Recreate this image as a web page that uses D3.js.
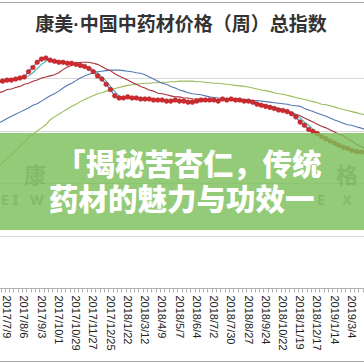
<!DOCTYPE html>
<html><head><meta charset="utf-8">
<script src="https://cdn.jsdelivr.net/npm/d3@7"></script>
<style>html,body{margin:0;padding:0;background:#fff;overflow:hidden}</style>
</head><body>
<svg id="c" width="364" height="364"></svg>
<script>
const titleLeft = "康美";
const titleDot = "·";
const titleRight = "中国中药材价格（周）总指数";
const tickLabels = ["2017/7/9","2017/8/6","2017/9/3","2017/10/1","2017/10/29","2017/11/27","2017/12/25","2018/1/22","2018/3/12","2018/4/9","2018/5/7","2018/6/4","2018/7/2","2018/7/30","2018/8/27","2018/9/24","2018/10/22","2018/11/19","2018/12/17","2019/1/14","2019/3/4"];
const firstLabelIndex = 2;
const labelEvery = 4;
// weekly total index (markers)
const indexWeekly = [1497,1497,1498,1498,1499,1500,1501,1506,1510,1515,1518,1519,1517,1516,1515,1515,1514,1514,1513,1512,1511,1509,1506,1502,1499,1494,1489,1483,1481,1481,1482,1481,1481,1480,1480,1480,1479,1479,1479,1478,1478,1479,1478,1478,1477,1477,1478,1479,1479,1479,1479,1478,1480,1479,1480,1479,1479,1478,1478,1477,1475,1474,1473,1472,1471,1469.5,1469,1468,1466,1463,1458,1455,1451,1449,1447,1444,1442,1440,1438,1436,1434,1433,1431,1430,1429.5,1429.5];
const avgShort = [1497,1497,1497,1498,1498,1499,1500,1502,1505,1509,1513,1516,1518,1517,1516,1515,1515,1514,1513,1513,1512,1510,1508,1505,1501,1497,1492,1487,1483,1481,1481,1481,1481,1481,1480,1480,1480,1479,1479,1479,1478,1478,1478,1478,1478,1477,1477,1478,1478,1479,1479,1479,1479,1479,1479,1479,1479,1479,1478,1478,1477,1475,1474,1473,1472,1471,1470,1469,1467,1465,1462,1458,1455,1451,1448,1446,1443,1441,1439,1437,1435,1434,1432,1431,1430,1430];
const avgMid = [1486,1487,1489,1489.5,1491,1492,1494,1495,1497,1498,1500,1501,1502,1503,1505,1508,1510.5,1512,1514,1515,1515,1515,1514,1513,1511,1508.5,1507,1504,1502,1500,1498,1496,1494,1492,1490.5,1488.5,1487.5,1485.5,1485,1484,1483,1482,1482,1481,1481,1480,1480,1480,1479,1479,1479,1479,1479,1479,1479,1479,1478,1478,1478,1477,1476,1475,1474,1473,1472,1471,1469.5,1468.5,1466.5,1465.5,1464,1462,1460,1458,1456,1454,1452.5,1450.5,1448.5,1446.5,1445,1442,1440,1437,1435,1433];
const avgLong = [1457,1459,1461.5,1463.5,1465.5,1467.5,1469.5,1471.5,1474,1475.5,1478,1480.5,1483,1485,1487.5,1490.5,1493,1495,1497.5,1500,1502,1503.5,1505,1506,1506.5,1507,1507.5,1507.5,1507.5,1507,1506.5,1506,1505,1504.5,1503,1501,1499,1497,1495,1494,1492,1490.5,1488.5,1487.5,1486,1485,1484.5,1484,1483,1482,1481.5,1481,1480.5,1480,1480,1480,1480,1479.5,1479,1478.5,1478.5,1478,1477.5,1477,1476.5,1476,1475.5,1475,1474,1473.5,1473,1471,1469.5,1468,1466.5,1465,1463.5,1462,1460,1458.5,1457,1455.5,1455,1453.5,1452.5,1451];
const avgYear = [1415.5,1419.5,1423.5,1427,1431,1435,1438.5,1443,1446.5,1449.5,1452.5,1455.5,1460,1463,1465.5,1468,1470.5,1473,1475,1477.5,1479.5,1481.5,1483,1485,1486,1487.5,1488.5,1490,1491,1492,1493,1493.5,1494,1494.5,1495,1495,1495.5,1495.5,1496,1496,1496.5,1496.5,1497,1497,1497,1497,1496.5,1496.5,1496,1495.5,1495,1495,1494.5,1494,1493.5,1493,1492.5,1492,1491.5,1490.5,1489.5,1488.5,1488,1487,1486,1485,1484.5,1483.5,1482.5,1481.5,1480.5,1479.5,1478.5,1477.5,1476.5,1475,1474.5,1473.5,1472.5,1471,1470,1469,1468,1467,1466,1465];
const gridValues = [1350,1400,1450,1500];
const bannerLines = ["「揭秘苦杏仁，传统","药材的魅力与功效一"];
const ghostLeftCn = "康";
const ghostRightCn = "格";
const ghostLeftEn = "EI W";
const ghostRightEn = "E X";

const svg = d3.select("#c");
const n = indexWeekly.length;
const x = d3.scaleLinear().domain([0, n - 1]).range([-1.6, 364.75]);
const y = d3.scaleLinear().domain([1300, 1550]).range([288, 25.5]);

// gridlines
svg.append("g").selectAll("line").data(gridValues).join("line")
  .attr("x1", 0).attr("x2", 364)
  .attr("y1", d => Math.round(y(d)) + 0.5).attr("y2", d => Math.round(y(d)) + 0.5)
  .attr("stroke", "#d9d9d9").attr("stroke-width", 1);

// x axis
const axisY = Math.round(y(1300)) + 0.5;
svg.append("line").attr("x1", 0).attr("x2", 364).attr("y1", axisY).attr("y2", axisY)
  .attr("stroke", "#b0b0b0");
svg.append("g").selectAll("line").data(d3.range(n + 1)).join("line")
  .attr("x1", d => Math.round(x(d - 0.5)) + 0.5).attr("x2", d => Math.round(x(d - 0.5)) + 0.5)
  .attr("y1", axisY).attr("y2", axisY + 4)
  .attr("stroke", "#b0b0b0");
svg.append("g").selectAll("text").data(tickLabels).join("text")
  .attr("transform", (d, k) => `translate(${x(firstLabelIndex + k * labelEvery)},${axisY + 7}) rotate(90)`)
  .attr("dy", "0.35em")
  .attr("font-family", "'Liberation Sans', Arial, sans-serif")
  .attr("font-size", 11).attr("fill", "#222")
  .text(d => d);

const line = d3.line().x((d, i) => x(i)).y(d => y(d));
const series = [
  {data: avgYear, color: "#9bbb59"},
  {data: avgLong, color: "#5677b0"},
  {data: avgMid, color: "#a8323a"},
  {data: avgShort, color: "#3fb0b8"},
  {data: indexWeekly, color: "#4f6aa8"}
];
svg.append("g").selectAll("path").data(series).join("path")
  .attr("d", d => line(d.data)).attr("fill", "none")
  .attr("stroke", d => d.color).attr("stroke-width", 1.1);
svg.append("g").selectAll("circle").data(indexWeekly).join("circle")
  .attr("cx", (d, i) => x(i)).attr("cy", d => y(d)).attr("r", 2.3)
  .attr("fill", "#d02a2e").attr("stroke", "#b52025").attr("stroke-width", 0.6);

// overlay banner
const band = svg.append("g");
band.append("rect").attr("x", 0).attr("y", 133).attr("width", 364).attr("height", 97)
  .attr("fill", "#7dbf5a").attr("opacity", 0.82);
const ghost = (t, gx, gy, fs, ls, fam) => band.append("text").attr("x", gx).attr("y", gy)
  .attr("font-family", fam).attr("font-weight", "bold")
  .attr("font-size", fs).attr("letter-spacing", ls)
  .attr("fill", "#3d6b2a").attr("opacity", 0.18).text(t);
ghost(ghostLeftCn, 24, 183, 22, 0, "'Noto Sans CJK SC', sans-serif");
ghost(ghostRightCn, 336, 183, 22, 0, "'Noto Sans CJK SC', sans-serif");
ghost(ghostLeftEn, 1, 205, 14, 4, "'Noto Sans', sans-serif");
ghost(ghostRightEn, 317, 205, 14, 7, "'Noto Sans', sans-serif");
const bt = band.append("text")
  .attr("font-family", "'Noto Sans CJK SC', sans-serif").attr("font-weight", 900)
  .attr("font-size", 29.5).attr("fill", "#ffffff");
bt.selectAll("tspan").data(bannerLines).join("tspan")
  .attr("x", (d, i) => i === 0 ? 56 : 49).attr("y", (d, i) => i === 0 ? 175 : 210)
  .text(d => d);

// title
const t = svg.append("text").attr("x", 181).attr("y", 31).attr("text-anchor", "middle")
  .attr("font-family", "'Noto Sans CJK SC', sans-serif").attr("font-weight", "bold")
  .attr("font-size", 19).attr("fill", "#333");
t.append("tspan").text(titleLeft);
t.append("tspan").attr("font-family", "'Liberation Sans', sans-serif").text(titleDot);
t.append("tspan").text(titleRight);

// frame
svg.append("line").attr("x1", 0).attr("x2", 364).attr("y1", 2.5).attr("y2", 2.5).attr("stroke", "#a6a6a6");
svg.append("line").attr("x1", 0).attr("x2", 364).attr("y1", 361.5).attr("y2", 361.5).attr("stroke", "#a6a6a6");
</script>
</body></html>
